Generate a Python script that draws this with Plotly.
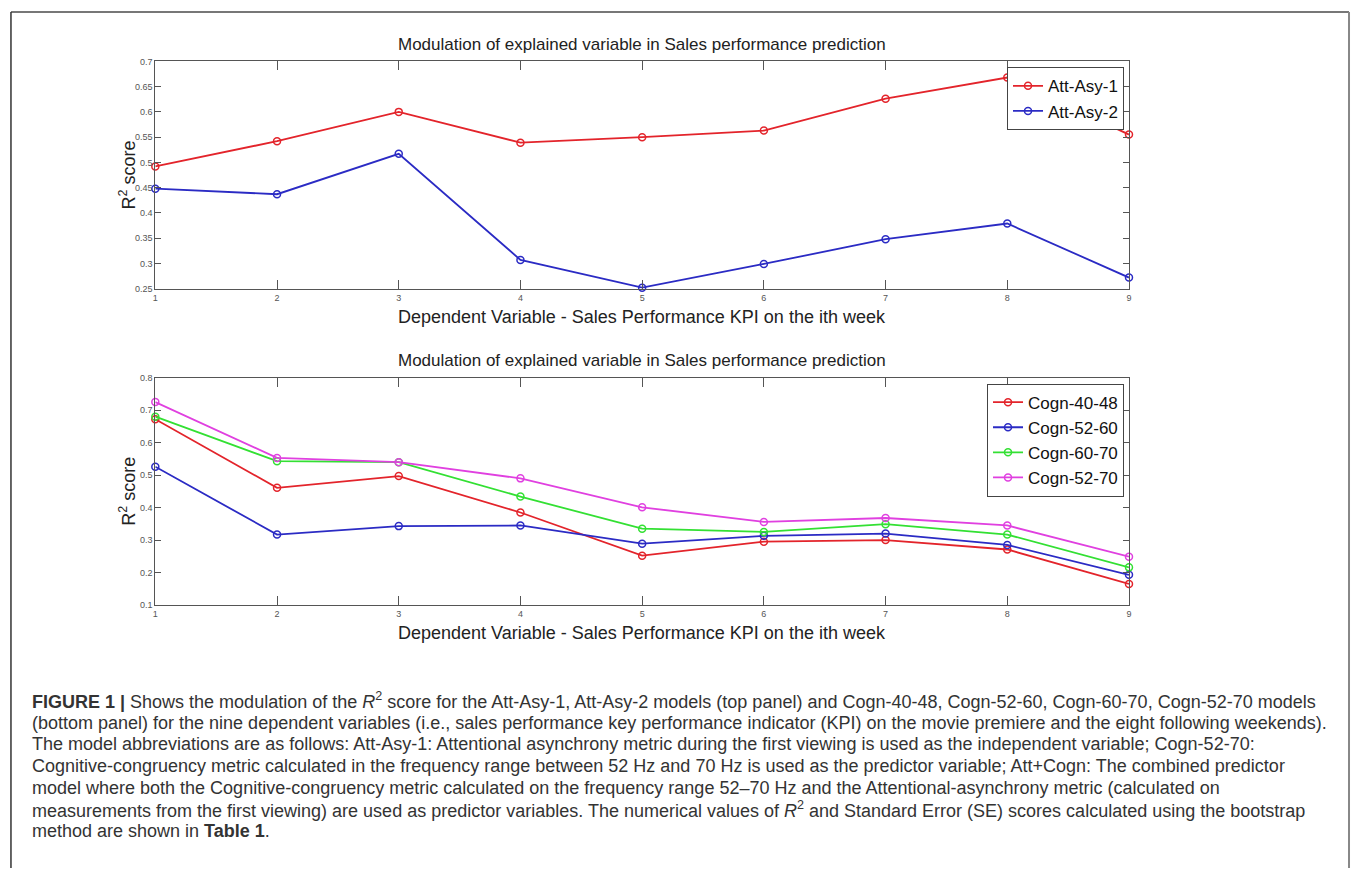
import plotly.graph_objects as go

W, H = 1354, 873

weeks = [1, 2, 3, 4, 5, 6, 7, 8, 9]

# Top panel
att_asy_1 = [0.492, 0.542, 0.600, 0.539, 0.550, 0.563, 0.626, 0.668, 0.555]
att_asy_2 = [0.448, 0.437, 0.517, 0.307, 0.252, 0.299, 0.348, 0.379, 0.272]

# Bottom panel
cogn_40_48 = [0.672, 0.461, 0.497, 0.385, 0.252, 0.295, 0.300, 0.271, 0.165]
cogn_52_60 = [0.526, 0.317, 0.343, 0.345, 0.289, 0.313, 0.320, 0.285, 0.193]
cogn_60_70 = [0.680, 0.543, 0.540, 0.434, 0.335, 0.325, 0.349, 0.317, 0.216]
cogn_52_70 = [0.725, 0.553, 0.540, 0.490, 0.401, 0.356, 0.368, 0.345, 0.249]

top_yticks = [0.25, 0.3, 0.35, 0.4, 0.45, 0.5, 0.55, 0.6, 0.65, 0.7]
top_yticklabels = ["0.25", "0.3", "0.35", "0.4", "0.45", "0.5", "0.55", "0.6", "0.65", "0.7"]
bot_yticks = [0.1, 0.2, 0.3, 0.4, 0.5, 0.6, 0.7, 0.8]
bot_yticklabels = ["0.1", "0.2", "0.3", "0.4", "0.5", "0.6", "0.7", "0.8"]

panel_title = "Modulation of explained variable in Sales performance prediction"
x_title = "Dependent Variable - Sales Performance KPI on the ith week"
y_title = "R<sup>2</sup> score"

caption_lines = [
    "<b>FIGURE 1 |</b> Shows the modulation of the <i>R</i><sup>2</sup> score for the Att-Asy-1, Att-Asy-2 models (top panel) and Cogn-40-48, Cogn-52-60, Cogn-60-70, Cogn-52-70 models",
    "(bottom panel) for the nine dependent variables (i.e., sales performance key performance indicator (KPI) on the movie premiere and the eight following weekends).",
    "The model abbreviations are as follows: Att-Asy-1: Attentional asynchrony metric during the first viewing is used as the independent variable; Cogn-52-70:",
    "Cognitive-congruency metric calculated in the frequency range between 52 Hz and 70 Hz is used as the predictor variable; Att+Cogn: The combined predictor",
    "model where both the Cognitive-congruency metric calculated on the frequency range 52\u201370 Hz and the Attentional-asynchrony metric (calculated on",
    "measurements from the first viewing) are used as predictor variables. The numerical values of <i>R</i><sup>2</sup> and Standard Error (SE) scores calculated using the bootstrap",
    "method are shown in <b>Table 1</b>.",
]

RED, BLUE, GREEN, MAG = "#e3242b", "#2b2bc4", "#33e033", "#e040e0"

# layout geometry (pixels)
PL, PR = 153, 1131
TOP_T, TOP_B = 57, 287
BOT_T, BOT_B = 377, 607


def px(x):
    return x / W


def py(y):
    return 1 - y / H


fig = go.Figure()


def add(x, y, name, color, xa, ya, legend):
    fig.add_trace(go.Scatter(
        x=x, y=y, name=name, mode="lines+markers",
        line=dict(color=color, width=1.8),
        marker=dict(symbol="circle-open", size=7, color=color, line=dict(width=1.5, color=color)),
        xaxis=xa, yaxis=ya, legend=legend, cliponaxis=False,
    ))


add(weeks, att_asy_1, "Att-Asy-1", RED, "x", "y", "legend")
add(weeks, att_asy_2, "Att-Asy-2", BLUE, "x", "y", "legend")
add(weeks, cogn_40_48, "Cogn-40-48", RED, "x2", "y2", "legend2")
add(weeks, cogn_52_60, "Cogn-52-60", BLUE, "x2", "y2", "legend2")
add(weeks, cogn_60_70, "Cogn-60-70", GREEN, "x2", "y2", "legend2")
add(weeks, cogn_52_70, "Cogn-52-70", MAG, "x2", "y2", "legend2")

axis_common = dict(
    showline=True, linecolor="#555", linewidth=1, mirror="ticks",
    ticks="inside", tickcolor="#555", showgrid=False, zeroline=False,
    tickfont=dict(family="Liberation Sans, Arial, sans-serif", size=9, color="#555"),
)

legend_common = dict(xanchor="right", yanchor="top", bgcolor="white", bordercolor="#444",
                     borderwidth=1, font=dict(size=17, color="#111"), itemwidth=30,
                     tracegroupgap=0)

fig.update_layout(
    width=W, height=H,
    margin=dict(l=0, r=0, t=0, b=0),
    paper_bgcolor="white", plot_bgcolor="white",
    showlegend=True,
    font=dict(family="Liberation Sans, Arial, sans-serif", color="#222"),
    xaxis=dict(domain=[px(PL), px(PR)], range=[1, 9], tickvals=weeks, ticklen=9, anchor="y", **axis_common),
    yaxis=dict(domain=[py(TOP_B), py(TOP_T)], range=[0.25, 0.7], tickvals=top_yticks,
               ticktext=top_yticklabels, ticklen=6, anchor="x", **axis_common),
    xaxis2=dict(domain=[px(PL), px(PR)], range=[1, 9], tickvals=weeks, ticklen=9, anchor="y2", **axis_common),
    yaxis2=dict(domain=[py(BOT_B), py(BOT_T)], range=[0.1, 0.8], tickvals=bot_yticks,
                ticktext=bot_yticklabels, ticklen=6, anchor="x2", **axis_common),
    legend=dict(x=px(1126), y=py(63), **legend_common),
    legend2=dict(x=px(1126), y=py(383), **legend_common),
)

ann = []
for (yt, yx, ya_mid) in [(40, 316, (TOP_T + TOP_B) / 2), (360, 635, (BOT_T + BOT_B) / 2)]:
    ann.append(dict(x=px((PL + PR) / 2), y=py(yt), xref="paper", yref="paper", text=panel_title,
                    showarrow=False, xanchor="center", yanchor="middle", font=dict(size=17, color="#222")))
    ann.append(dict(x=px((PL + PR) / 2), y=py(yx), xref="paper", yref="paper", text=x_title,
                    showarrow=False, xanchor="center", yanchor="middle", font=dict(size=18, color="#222")))
    ann.append(dict(x=px(125), y=py(ya_mid), xref="paper", yref="paper", text=y_title, textangle=-90,
                    showarrow=False, xanchor="center", yanchor="middle", font=dict(size=18, color="#222")))

y0 = 704
for i, line in enumerate(caption_lines):
    ann.append(dict(x=px(27), y=py(y0 + i * 22), xref="paper", yref="paper", text=line,
                    showarrow=False, xanchor="left", yanchor="middle", align="left",
                    font=dict(size=18, color="#333")))
fig.update_layout(annotations=ann)

# outer frame
fig.add_shape(type="line", xref="paper", yref="paper", x0=px(8), x1=px(1352), y0=py(7), y1=py(7),
              line=dict(color="#777", width=2))
fig.add_shape(type="line", xref="paper", yref="paper", x0=px(8), x1=px(8), y0=py(7), y1=0,
              line=dict(color="#333", width=1.5))
fig.add_shape(type="line", xref="paper", yref="paper", x0=px(1352), x1=px(1352), y0=py(7), y1=0,
              line=dict(color="#888", width=2))

fig.write_html("out.html", config={"displayModeBar": False},
               post_script="document.body.style.margin='0px';document.body.style.overflow='hidden';")
